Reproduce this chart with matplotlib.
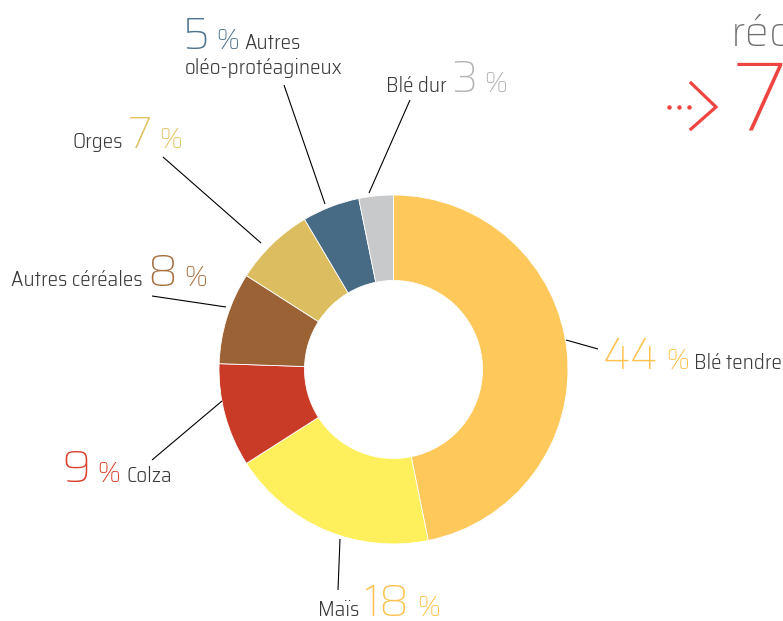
import matplotlib
matplotlib.use('Agg')
import matplotlib.pyplot as plt

# ═══ Data ═════════════════════════════════════════════════════════════════

labels = ['Blé tendre', 'Maïs', 'Colza', 'Autres céréales', 'Orges',
          'Autres oléo-protéagineux', 'Blé dur']
shares = [44, 18, 9, 8, 7, 5, 3]
colors = ['#fec85b', '#fef05c', '#c93b26', '#9a6235', '#dcbe60', '#476b84', '#c8c9cb']
num_colors = ['#fdc24c', '#fdc24c', '#d9412c', '#a8703f', '#e2c263', '#4f7490', '#b3b3b3']

# ═══ Layout ═══════════════════════════════════════════════════════════════

W, H = 783, 621
cx, cy = 393.5, 369.5
r_out, r_in = 174.5, 89

LAB_FONT = ['Saira SemiCondensed', 'Saira Semi Condensed', 'Roboto Condensed', 'DejaVu Sans']
NUM_FONT = ['Saira', 'Saira SemiCondensed', 'Saira Semi Condensed', 'Roboto', 'DejaVu Sans']
LAB_COL = '#3a3a3a'

# leader lines (pixel coords, y down)
leaders = [
    (566, 340, 598, 349),
    (340, 539, 338, 590),
    (222, 401, 152, 460),
    (226, 307, 152, 296),
    (261, 243, 163, 157),
    (325, 204, 284, 85),
    (369, 193, 410, 100),
]

# label pieces : start x, baseline y, order of pieces
label_pos = [
    (603, 369, 'npl'),
    (318, 616, 'lnp'),
    (62, 482, 'npl'),
    (11, 286, 'lnp'),
    (72, 148, 'lnp'),
    (182, 49, 'npl'),
    (386, 92, 'lnp'),
]

fig = plt.figure(figsize=(W / 100, H / 100), dpi=100)
ax = fig.add_axes([0, 0, 1, 1])


def Y(y):
    return H - y


ax.pie(shares, colors=colors, startangle=90, counterclock=False,
       center=(cx, Y(cy)), radius=r_out, frame=True,
       wedgeprops=dict(width=r_out - r_in, edgecolor='white', linewidth=0.6))

ax.set_xlim(0, W)
ax.set_ylim(0, H)
ax.set_aspect('auto')
ax.axis('off')

for x0, y0, x1, y1 in leaders:
    ax.plot([x0, x1], [Y(y0), Y(y1)], color='black', lw=0.8, solid_capstyle='butt')

fig.canvas.draw()
renderer = fig.canvas.get_renderer()

gaps = {('l', 'n'): 5, ('n', 'p'): 7, ('p', 'l'): 6, ('p', 'n'): 6, ('l', 'p'): 6}

for lab, val, ncol, (x, y, order) in zip(labels, shares, num_colors, label_pos):
    lab_first = lab.replace('Autres oléo-protéagineux', 'Autres')
    prev = None
    for k in order:
        if prev is not None:
            x += gaps[(prev, k)]
        if k == 'n':
            t = ax.text(x, Y(y), str(val), fontsize=31.5, color=ncol,
                        family=NUM_FONT, weight=200, va='baseline', ha='left')
        elif k == 'p':
            t = ax.text(x, Y(y), '%', fontsize=20.5, color=ncol,
                        family=NUM_FONT, weight=300, va='baseline', ha='left')
        else:
            t = ax.text(x, Y(y), lab_first, fontsize=15.2, color=LAB_COL,
                        family=LAB_FONT, weight=300, va='baseline', ha='left')
        x = t.get_window_extent(renderer).x1
        prev = k

ax.text(185, Y(74), 'oléo-protéagineux', fontsize=15.2, color=LAB_COL,
        family=LAB_FONT, weight=300, va='baseline', ha='left')

# ─── Cut-off headline, top right
ax.text(731, Y(46), 'réd', fontsize=31, color='#6d6e70', family=NUM_FONT,
        weight=300, va='baseline', ha='left')
ax.text(733, Y(130), '7', fontsize=71, color='#ef4540', family=NUM_FONT,
        weight=300, va='baseline', ha='left')
ax.plot([669, 679, 689], [Y(107)] * 3, 'o', color='#ef4540', ms=3.2, mec='none')
ax.plot([691, 716, 691], [Y(83), Y(107), Y(129)], color='#ef4540', lw=2.3,
        solid_joinstyle='miter')

fig.savefig('out.png', dpi=100)
